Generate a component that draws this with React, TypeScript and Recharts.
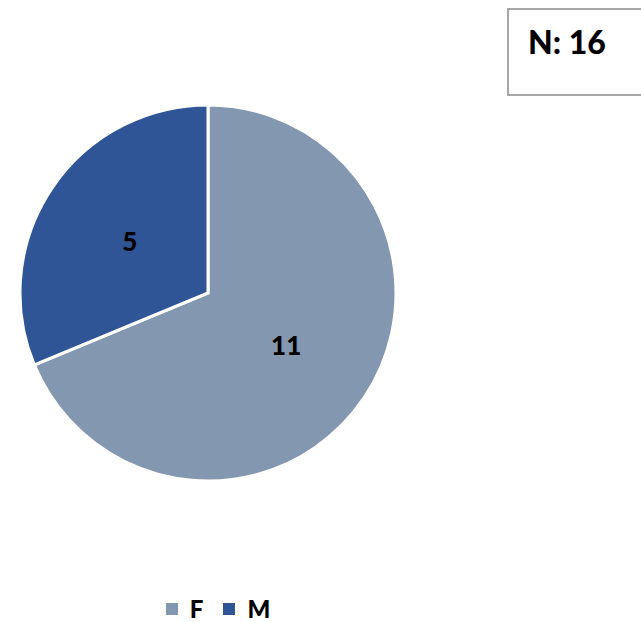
import React from 'react'
import { PieChart, Pie, Cell, Legend } from 'recharts'

const categories = ['F', 'M']
const counts = [11, 5]
const colors = ['#8497B0', '#2F5597']
const totalLabel = 'N: 16'

const data = categories.map((name, i) => ({ name, value: counts[i] }))

const FONT = 'Lato, "Open Sans", sans-serif'
const RADIAN = Math.PI / 180

const renderLabel = (props: any) => {
  const { cx, cy, midAngle, outerRadius, value } = props
  const r = outerRadius * 0.5
  const x = cx + r * Math.cos(-midAngle * RADIAN)
  const y = cy + r * Math.sin(-midAngle * RADIAN)
  return (
    <text
      x={x}
      y={y}
      textAnchor="middle"
      dominantBaseline="central"
      fontFamily={FONT}
      fontWeight={900}
      fontSize={26}
      fill="#000"
    >
      {value}
    </text>
  )
}

const renderLegend = (props: any) => {
  const { payload } = props
  return (
    <div style={{ display: 'flex', justifyContent: 'center', alignItems: 'center', height: 26 }}>
      {payload.map((entry: any, i: number) => (
        <div key={`leg-${i}`} style={{ display: 'flex', alignItems: 'center', marginRight: i === 0 ? 20 : 0 }}>
          <span style={{ display: 'inline-block', width: 12, height: 12, background: entry.color, marginRight: 12 }} />
          <span style={{ fontFamily: FONT, fontWeight: 900, fontSize: 24, color: '#000', lineHeight: '26px' }}>
            {entry.value}
          </span>
        </div>
      ))}
    </div>
  )
}

export default function App() {
  return (
    <div style={{ position: 'absolute', left: 0, top: 0, width: 641, height: 622, background: '#fff', overflow: 'hidden' }}>
      <PieChart width={641} height={622} margin={{ top: 0, right: 0, bottom: 0, left: 0 }}>
        <Pie
          data={data}
          dataKey="value"
          nameKey="name"
          cx={208}
          cy={293}
          outerRadius={188}
          startAngle={90}
          endAngle={-270}
          stroke="#ffffff"
          strokeWidth={3}
          label={renderLabel}
          labelLine={false}
          isAnimationActive={false}
        >
          {data.map((entry, i) => (
            <Cell key={`cell-${i}`} fill={colors[i]} />
          ))}
        </Pie>
        <Legend
          content={renderLegend}
          wrapperStyle={{ position: 'absolute', left: 118, top: 596, width: 200, height: 26 }}
        />
      </PieChart>
      <div
        style={{
          position: 'absolute',
          left: 507,
          top: 8,
          width: 150,
          height: 88,
          border: '2px solid #A6A6A6',
          boxSizing: 'border-box',
          background: '#fff',
        }}
      >
        <span
          style={{
            position: 'absolute',
            left: 19,
            top: 14,
            fontFamily: FONT,
            fontWeight: 900,
            fontSize: 32,
            lineHeight: '36px',
            color: '#000',
          }}
        >
          {totalLabel}
        </span>
      </div>
    </div>
  )
}
